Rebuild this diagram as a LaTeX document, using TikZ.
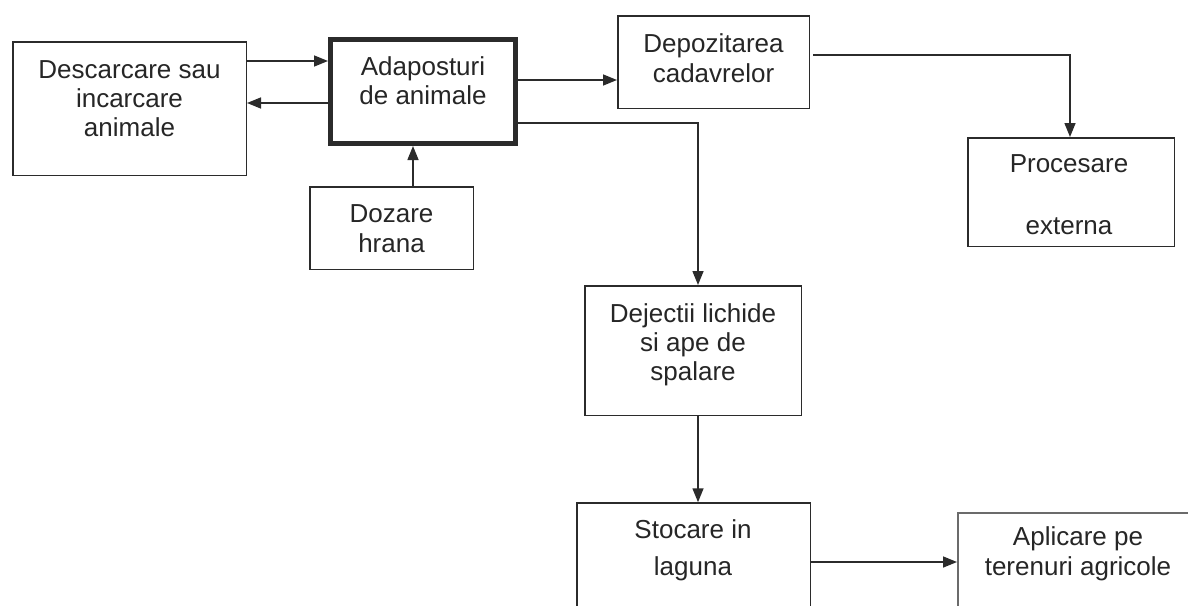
\documentclass[tikz,border=0pt]{standalone}
\usepackage{fontspec}
\setmainfont{Liberation Sans}
\usetikzlibrary{arrows.meta}
\definecolor{ln}{HTML}{2B2B2B}
\definecolor{txtc}{HTML}{262626}
\begin{document}
\begin{tikzpicture}[x=1pt,y=-1pt,
  box/.style={draw=ln, line width=1.5pt, rectangle, inner sep=0pt},
  thickbox/.style={box, line width=5pt},
  arr/.style={draw=ln, line width=1.5pt, -{Triangle[length=14pt,width=11pt]}},
  txt/.style={inner sep=0pt, anchor=base, text=txtc, font=\fontsize{26}{29}\selectfont}]
\fill[white] (0,0) rectangle (1188,605);
\useasboundingbox (0,0) rectangle (1188,605);
% boxes
\node[box, minimum width=233.5pt, minimum height=133.5pt] (desc) at (129.5,108.5) {};
\node[thickbox, minimum width=185pt, minimum height=104pt] (adap) at (423,91.5) {};
\node[box, minimum width=163.5pt, minimum height=82.5pt] (doz) at (391.5,228) {};
\node[box, minimum width=191.5pt, minimum height=92.5pt] (depoz) at (713.5,62) {};
\node[box, minimum width=206.5pt, minimum height=108.5pt] (proc) at (1071,192) {};
\node[box, minimum width=216.5pt, minimum height=129.5pt] (dej) at (693,350.5) {};
\node[box, minimum width=233.5pt, minimum height=137pt] (stoc) at (693.5,571.5) {};
\node[box, draw=ln!70, minimum width=241.5pt, minimum height=106.5pt] (apl) at (1078.5,566) {};
% texts
\node[txt] (descT) at (129.5,78) {\begin{tabular}[t]{@{}c@{}}Descarcare sau\\incarcare\\animale\end{tabular}};
\node[txt] (adapT) at (423,75) {\begin{tabular}[t]{@{}c@{}}Adaposturi\\de animale\end{tabular}};
\node[txt] (dozT) at (391.5,222) {\begin{tabular}[t]{@{}c@{}}Dozare\\[1pt]hrana\end{tabular}};
\node[txt] (depozT) at (713.5,52) {\begin{tabular}[t]{@{}c@{}}Depozitarea\\[1pt]cadavrelor\end{tabular}};
\node[txt] (procT) at (1069,172) {\begin{tabular}[t]{@{}c@{}}Procesare\\[2pt] \\[2pt]externa\end{tabular}};
\node[txt] (dejT) at (693,322) {\begin{tabular}[t]{@{}c@{}}Dejectii lichide\\si ape de\\spalare\end{tabular}};
\node[txt] (stocT) at (693,538) {\begin{tabular}[t]{@{}c@{}}Stocare in\\[8pt]laguna\end{tabular}};
\node[txt] (aplT) at (1078,545) {\begin{tabular}[t]{@{}c@{}}Aplicare pe\\[1pt]terenuri agricole\end{tabular}};
% helper coordinates
\coordinate (h55) at (0,55);
\coordinate (h61) at (0,61);
\coordinate (h80) at (0,80);
\coordinate (h103) at (0,103);
\coordinate (h123) at (0,123);
\coordinate (h562) at (0,562);
\coordinate (v413) at (413,0);
\coordinate (v698) at (698,0);
\coordinate (v1070) at (1070,0);
% connectors
\draw[arr] (desc.east |- h61) -- (adap.west |- h61);
\draw[arr] (adap.west |- h103) -- (desc.east |- h103);
\draw[arr] (doz.north -| v413) -- (adap.south -| v413);
\draw[arr] (adap.east |- h80) -- (depoz.west |- h80);
\draw[arr] ([xshift=3pt]depoz.east |- h55) -| (proc.north -| v1070);
\draw[arr] (adap.east |- h123) -| (dej.north -| v698);
\draw[arr] (dej.south -| v698) -- (stoc.north -| v698);
\draw[arr] (stoc.east |- h562) -- (apl.west |- h562);
\end{tikzpicture}
\end{document}
